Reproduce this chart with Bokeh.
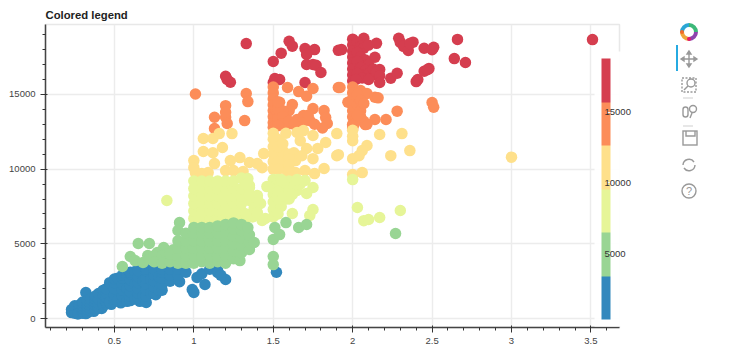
from bokeh.embed import file_html
from bokeh.resources import INLINE
from bokeh.plotting import figure
from bokeh.layouts import row
from bokeh.models import ColumnDataSource, LinearColorMapper, ColorBar, BasicTicker, Div
from bokeh.transform import transform

palette = ["#3288bd", "#99d594", "#e6f598", "#fee08b", "#fc8d59", "#d53e4f"]
price_low = 326
price_high = 18823
title = "Colored legend"

band_blue = [
 (0.23,400),(0.23,600),(0.25,350),(0.25,500),(0.25,700),(0.25,850),(0.28,350),(0.28,500),(0.28,700),(0.28,900),
 (0.27,300),(0.32,330),(0.37,480),(0.42,680),(0.48,950),(0.54,1050),(0.66,1150),(0.76,1600),
 (0.3,350),(0.3,500),(0.3,700),(0.3,900),(0.3,1100),(0.32,1740),(0.33,400),(0.33,600),(0.33,800),(0.33,1000),(0.33,1200),
 (0.35,530),(0.35,700),(0.35,900),(0.35,1100),(0.35,1300),(0.38,600),(0.38,700),(0.38,900),(0.38,1100),(0.38,1300),(0.38,1500),
 (0.4,700),(0.4,800),(0.4,1000),(0.4,1300),(0.4,1670),(0.43,850),(0.43,1000),(0.43,1300),(0.43,1600),(0.43,1900),
 (0.45,1000),(0.45,1100),(0.45,1400),(0.45,1700),(0.45,2000),(0.47,2400),(0.47,1100),(0.5,1140),(0.5,1300),(0.5,1600),(0.5,2000),(0.5,2400),(0.5,2650),
 (0.52,1200),(0.52,2700),(0.55,1200),(0.55,1500),(0.55,1900),(0.55,2300),(0.55,2700),(0.55,2900),(0.58,1150),(0.58,2000),(0.58,2950),
 (0.6,1200),(0.6,1500),(0.6,1800),(0.6,2200),(0.6,2600),(0.6,3000),(0.6,3100),(0.63,1300),(0.63,2300),(0.63,3150),
 (0.65,1400),(0.65,1700),(0.65,2000),(0.65,2400),(0.65,2800),(0.65,3200),(0.68,1500),(0.68,2500),(0.7,1070),(0.7,1500),(0.7,1900),(0.7,2300),(0.7,2700),(0.7,3200),(0.7,3300),
 (0.73,1700),(0.73,2600),(0.75,1700),(0.75,2100),(0.75,2500),(0.75,2900),(0.75,3300),(0.78,1900),(0.78,2800),(0.8,1900),(0.8,2300),(0.8,2700),(0.8,3100),(0.8,3300),
 (0.85,2500),(0.85,2900),(0.85,3300),(0.91,2470),(0.9,2900),(0.9,3300),(0.95,3100),(0.99,1940),(1.0,1750),(1.07,2280),(1.02,2750),(1.05,3000),
 (1.1,3300),(1.15,3200),(1.15,3080),(1.2,2610),(1.17,2900),(1.52,3100),
]
band_red = [
 (1.33,18400),(1.2,16215),(1.23,15815),(1.21,16000),(1.5,17200),(1.55,17760),(1.6,18560),(1.62,18230),(1.7,18070),(1.76,18000),
 (1.71,17670),(1.71,17000),(1.75,17000),(1.77,16950),(1.8,16470),(1.7,15800),(1.51,16060),(1.54,16000),(1.5,15800),(1.91,17950),
 (1.93,18000),(2.0,18700),(2.0,18300),(2.0,17900),(2.0,17500),(2.0,17100),(2.0,16700),(2.0,16300),(2.0,15900),(2.07,18760),(2.15,18420),
 (2.14,17490),(2.17,16660),(2.03,18500),(2.05,18200),(2.07,18100),(2.1,18300),(2.03,17800),(2.05,17500),(2.08,17300),(2.1,17000),
 (2.03,17200),(2.05,16800),(2.08,16600),(2.1,16400),(2.13,16700),(2.15,16300),(2.03,16400),(2.06,16100),(2.02,16000),(2.1,16000),
 (2.15,16500),(2.17,16250),(2.17,15800),(2.24,16080),(2.28,16420),(2.29,18760),(2.3,18480),(2.32,18220),(2.35,17940),(2.38,18500),(2.36,18400),
 (2.45,18090),(2.51,18150),(2.5,17990),(2.66,18680),(2.64,17400),(2.71,17140),(2.4,15860),(2.41,16000),(2.45,16550),(2.48,16730),(2.47,16650),(3.51,18670),
]
band_orange = [
 (1.01,15030),(1.33,15060),(1.34,14520),(1.2,14250),(1.13,13470),(1.2,13470),(1.21,13050),(1.32,13250),(1.13,12720),(1.2,13800),
 (1.5,15500),(1.5,15100),(1.5,14700),(1.5,14300),(1.5,13900),(1.5,13500),(1.5,13100),(1.5,12800),(1.59,15460),(1.66,15190),(1.71,14880),(1.75,15400),(1.91,15460),
 (1.62,14320),(1.6,13920),(1.54,14480),(1.56,13900),(1.58,13250),(1.53,13000),(1.58,12900),(1.65,13320),(1.69,13590),(1.75,14050),(1.73,13250),
 (1.82,13920),(1.83,13450),(1.84,13050),(1.81,12750),(1.72,13600),(1.76,13000),(1.68,13100),(1.52,13900),(1.53,13400),
 (1.53,14000),(1.53,14500),(1.56,13500),(1.55,13000),(1.6,13200),(1.53,12900),(1.63,13000),
 (1.92,15460),(1.97,14480),(2.0,15500),(2.0,15100),(2.0,14700),(2.0,14300),(2.0,13900),(2.0,13500),(2.0,13000),(2.0,12700),
 (2.05,15260),(2.09,15060),(2.14,14810),(2.16,14770),(2.03,14300),(2.05,13900),(2.02,13300),(2.07,13200),(2.28,13880),(2.21,13320),(2.14,13320),
 (2.09,13000),(2.08,12980),(2.01,13000),(2.05,13500),(2.5,14460),(2.51,14140),(2.03,15000),(2.05,14600),(2.07,14400),(2.03,13600),(2.0,12900),
]
band_yellow = [
 (1.24,12380),(1.06,12050),(1.12,12050),(1.16,12380),(1.18,11450),(1.06,11180),(1.12,11100),(1.0,10570),(1.0,10100),(1.01,9770),(1.05,9700),(1.09,9770),
 (1.13,10370),(1.23,10570),(1.29,10770),(1.2,9900),(1.25,9900),(1.31,9840),(1.35,10440),(1.4,10370),(1.43,10100),(1.44,11040),
 (1.5,12400),(1.5,12000),(1.5,11500),(1.5,11000),(1.5,10500),(1.5,10000),(1.54,11900),(1.56,11240),(1.54,10700),(1.57,10200),(1.64,9770),(1.7,9900),(1.76,9700),
 (1.82,10040),(1.63,11100),(1.64,10570),(1.67,11900),(1.69,12580),(1.75,12250),(1.71,11380),(1.75,10700),(1.83,11780),(1.78,11380),(1.9,12380),(1.9,10900),
 (1.53,11000),(1.53,12000),(1.53,11500),(1.56,10800),(1.56,11700),(1.53,10500),(1.6,11000),(1.6,10700),(1.6,10300),
 (1.58,12400),(1.65,12450),(1.59,9800),(1.53,10000),(1.68,10900),(2.0,12600),(2.0,12200),(2.0,11900),(2.17,12320),(2.31,12380),(2.09,11580),(2.06,11240),
 (2.04,10900),(2.0,10700),(1.91,10970),(2.24,10900),(2.36,11240),(2.06,9770),(2.0,9640),(3.0,10800),
]
band_pale = [
 (1.0,6700),(1.0,7200),(1.0,7700),(1.0,8200),(1.0,8700),(1.0,9200),(1.05,6700),(1.05,7200),(1.05,7700),(1.05,8200),(1.05,8700),(1.05,9200),
 (1.1,6700),(1.1,7200),(1.1,7700),(1.1,8200),(1.1,8700),(1.1,9200),(1.15,6700),(1.15,7200),(1.15,7700),(1.15,8200),(1.15,8700),(1.15,9200),
 (1.2,6700),(1.2,7200),(1.2,7700),(1.2,8200),(1.2,8700),(1.2,9200),(1.25,6700),(1.25,7200),(1.25,7700),(1.25,8200),(1.25,8700),(1.25,9200),
 (1.3,6700),(1.3,7200),(1.3,7700),(1.3,8200),(1.3,8700),(1.3,9400),(1.35,8770),(1.4,8230),(1.42,7700),(1.43,6560),(1.35,7900),(1.34,9370),(1.35,8900),
 (1.37,6800),(1.32,6600),(1.33,7000),(1.38,7400),(1.4,7100),(1.4,8000),(1.35,8300),(1.33,9000),(1.45,6700),
 (1.5,9300),(1.5,8800),(1.5,8300),(1.5,7800),(1.5,7300),(1.5,6800),(1.46,8830),(1.53,9300),(1.55,8800),(1.58,8400),(1.6,9200),
 (1.6,8000),(1.57,9000),(1.58,8000),(1.55,7500),(1.65,8570),(1.7,9240),(1.75,8770),(1.71,8370),(1.62,7030),(1.75,7300),(1.73,6900),
 (1.53,8000),(1.53,8500),(1.53,7000),(1.56,8200),(1.6,8600),(1.63,8800),(1.67,9000),(1.62,8300),(1.55,9300),(1.65,9300),
 (0.83,7900),(2.0,9300),(2.03,7430),(2.07,6550),(2.1,6630),(2.17,6760),(2.3,7230),
]
band_green = [
 (0.91,6420),(0.9,5890),(0.65,5020),(0.72,5020),(0.81,4750),(0.6,4150),(0.63,3880),(0.55,3480),(0.71,4220),(0.77,4420),(0.68,3750),
 (0.72,4000),(0.75,4200),(0.8,4200),(0.87,4600),(0.83,4300),
 (0.75,3800),(0.8,3700),(0.85,3800),(0.85,4300),(0.9,3700),(0.9,4200),(0.9,4700),(0.9,5200),
 (0.95,3700),(0.95,4200),(0.95,4700),(0.95,5200),(0.95,5700),(1.0,3700),(1.0,4200),(1.0,4700),(1.0,5200),(1.0,5700),(1.0,6100),
 (1.05,3800),(1.05,4200),(1.05,4700),(1.05,5200),(1.05,5700),(1.05,6100),(1.1,3700),(1.1,4200),(1.1,4700),(1.1,5200),(1.1,5700),(1.1,6100),
 (1.15,3800),(1.15,4200),(1.15,4700),(1.15,5200),(1.15,5700),(1.15,6200),(1.2,3700),(1.2,4200),(1.2,4700),(1.2,5200),(1.2,5700),(1.2,6300),
 (1.25,4000),(1.25,4500),(1.25,5000),(1.25,5500),(1.25,6000),(1.25,6400),(1.29,3880),(1.3,4400),(1.3,4900),(1.3,5400),(1.3,5900),(1.3,6300),
 (1.35,4620),(1.35,5100),(1.35,5600),(1.34,6090),(1.38,5090),
 (1.5,5290),(1.51,6090),(1.54,5620),(1.58,6420),(1.66,6090),(1.71,6290),(1.5,4150),(1.5,3610),(2.27,5690),
]

bands = band_blue + band_red + band_orange + band_yellow + band_pale + band_green
carat = [b[0] for b in bands]
price = [b[1] for b in bands]

source = ColumnDataSource(dict(carat=carat, price=price))
mapper = LinearColorMapper(palette=palette, low=price_low, high=price_high)

p = figure(width=650, height=348, x_range=(0.066, 3.68), y_range=(-600, 19680),
           output_backend="svg", toolbar_location=None, title=title,
           min_border_left=45, min_border_right=31, min_border_top=24, min_border_bottom=21)
p.title.text_font = "Liberation Sans"
p.title.text_font_size = "11.3px"
p.title.text_font_style = "bold"
p.title.text_color = "#222222"
p.title.standoff = 8
p.outline_line_color = "#e8e8e8"
p.outline_line_width = 1.5
p.grid.grid_line_color = "#ececec"
p.grid.grid_line_width = 1.5
for ax in (p.xaxis[0], p.yaxis[0]):
    ax.axis_line_color = "#444444"
    ax.axis_line_width = 1.5
    ax.major_tick_line_color = "#333333"
    ax.minor_tick_line_color = "#333333"
    ax.major_tick_in = 2
    ax.major_tick_out = 5
    ax.minor_tick_out = 3
    ax.minor_tick_in = 0
    ax.major_label_standoff = 5
    ax.major_label_text_font = "Liberation Sans"
    ax.major_label_text_font_size = "9.5px"
    ax.major_label_text_color = "#444444"

p.scatter("carat", "price", source=source, size=11.5, line_color=None,
          fill_color=transform("price", mapper))

bar = ColorBar(color_mapper=mapper, ticker=BasicTicker(desired_num_ticks=4), location=(549, 1),
               width=9, height=261, padding=7, label_standoff=-6,
               major_label_text_font="Liberation Sans", major_label_text_font_size="9.5px",
               major_label_text_color="#333333", background_fill_color="white",
               border_line_color=None, bar_line_color=None, major_tick_in=3)
p.add_layout(bar, "center")

icons = """
<svg width="74" height="348" viewBox="650 0 74 348" xmlns="http://www.w3.org/2000/svg" style="display:block">
<g fill="none" stroke-width="4">
<path d="M689 25 a7 7 0 0 1 7 7" stroke="#3cb878"/><path d="M696 32 a7 7 0 0 1 -7 7" stroke="#8e44ad"/>
<path d="M689 39 a7 7 0 0 1 -7 -7" stroke="#f1a43c"/><path d="M682 32 a7 7 0 0 1 7 -7" stroke="#2aa6d5"/>
</g>
<circle cx="689" cy="39" r="2" fill="#e6196b"/><circle cx="682" cy="32" r="2" fill="#f26a2a"/>
<rect x="676" y="45" width="2" height="26" fill="#26aae1"/>
<g fill="none" stroke="#999" stroke-width="1.4">
<path d="M689 52 V66 M682 59 H696"/><path d="M689 51 l-2 3 h4z M689 67 l-2 -3 h4z M681 59 l3 -2 v4z M697 59 l-3 -2 v4z" fill="#999"/>
<rect x="682" y="78" width="14" height="14" stroke-dasharray="2 1.5"/><circle cx="691" cy="83" r="4" fill="#fff"/><path d="M688 86 l-4 4"/>
<path d="M683 98 h10" stroke="#ddd"/><path d="M683 126 h10" stroke="#ddd"/>
<rect x="683" y="107" width="5" height="10" rx="2.5"/><circle cx="693" cy="109" r="3.5"/><path d="M692 113 l-2 5"/>
<rect x="683" y="131" width="14" height="14"/><path d="M686 131 v5 h9 v-5"/>
<path d="M683 165 a6 6 0 0 1 11 -3 M695 165 a6 6 0 0 1 -11 3"/>
<circle cx="689" cy="191" r="7"/>
</g>
<text x="689" y="195" font-family="Liberation Sans" font-size="11" fill="#999" text-anchor="middle">?</text>
</svg>
"""
div = Div(text=icons, width=74, height=348, margin=0)

open("out.html", "w").write(file_html(row(p, div, spacing=0), INLINE))
